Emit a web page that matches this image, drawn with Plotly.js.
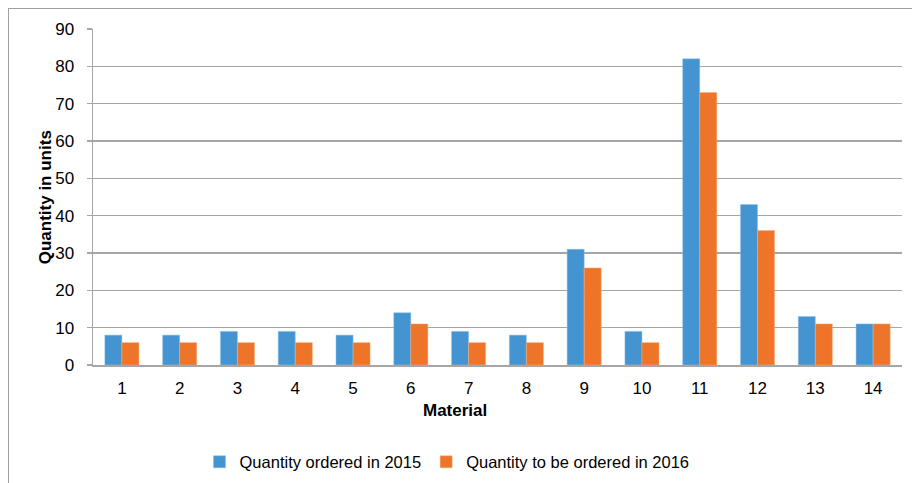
<!DOCTYPE html>
<html>
<head>
<meta charset="utf-8">
<script src="https://cdn.plot.ly/plotly-3.0.1.min.js"></script>
<style>
  html, body { margin: 0; padding: 0; background: #fff; overflow: hidden; }
  #frame { position: absolute; left: 8px; top: 8px; width: 930px; height: 500px; border: 1px solid #a0a0a0; pointer-events: none; z-index: 5; }
  #chart { position: absolute; left: 0; top: 0; width: 912px; height: 483px; }
</style>
</head>
<body>
<div id="chart"></div>
<div id="frame"></div>
<script>
const materials = ['1','2','3','4','5','6','7','8','9','10','11','12','13','14'];
const ordered2015 = [8, 8, 9, 9, 8, 14, 9, 8, 31, 9, 82, 43, 13, 11];
const toOrder2016 = [6, 6, 6, 6, 6, 11, 6, 6, 26, 6, 73, 36, 11, 11];
const seriesNames = ['Quantity ordered in 2015', 'Quantity to be ordered in 2016'];
const yTicks = [0, 10, 20, 30, 40, 50, 60, 70, 80, 90];

const font = 'Liberation Sans, Arial, sans-serif';

const traces = [
  { type: 'bar', name: seriesNames[0], x: materials, y: ordered2015,
    marker: { color: '#4494D1', line: { color: '#8fc0e8', width: 0.5 } } },
  { type: 'bar', name: seriesNames[1], x: materials, y: toOrder2016,
    marker: { color: '#ED7428', line: { color: '#f5b07e', width: 0.5 } } }
];

const layout = {
  width: 912, height: 483,
  margin: { l: 93, r: 10, t: 29, b: 118, autoexpand: false },
  paper_bgcolor: '#fff', plot_bgcolor: '#fff',
  barmode: 'group', bargap: 0.41, bargroupgap: 0,
  font: { family: font, size: 17, color: '#000' },
  showlegend: true,
  legend: { orientation: 'h', x: 0.4376, xanchor: 'center', y: -0.289, yanchor: 'middle',
            font: { family: font, size: 16.5, color: '#000' }, tracegroupgap: 0,
            bgcolor: 'rgba(0,0,0,0)' },
  xaxis: {
    type: 'category', showgrid: false, showline: true, linecolor: '#a6a6a6', linewidth: 1.5,
    ticks: '', tickfont: { family: font, size: 17, color: '#000' }, ticklabelstandoff: 7,
    automargin: false, fixedrange: true
  },
  yaxis: {
    range: [0, 90], tickvals: yTicks, showgrid: true, gridcolor: '#a6a6a6', gridwidth: 1.5,
    showline: true, linecolor: '#a6a6a6', linewidth: 1.5, zeroline: false,
    ticks: 'outside', ticklen: 5, tickcolor: '#a6a6a6', tickwidth: 1.5,
    tickfont: { family: font, size: 17, color: '#000' }, ticklabelstandoff: 9,
    automargin: false, fixedrange: true
  },
  annotations: [
    { text: '<b>Material</b>', xref: 'paper', yref: 'paper', x: 0.447, y: -0.135,
      xanchor: 'center', yanchor: 'middle', showarrow: false,
      font: { family: font, size: 17, color: '#000' } },
    { text: '<b>Quantity in units</b>', xref: 'paper', yref: 'paper', x: -0.059, y: 0.50,
      xanchor: 'center', yanchor: 'middle', showarrow: false, textangle: -90,
      font: { family: font, size: 17, color: '#000' } }
  ]
};

Plotly.newPlot('chart', traces, layout, { displayModeBar: false, staticPlot: true });
</script>
</body>
</html>
